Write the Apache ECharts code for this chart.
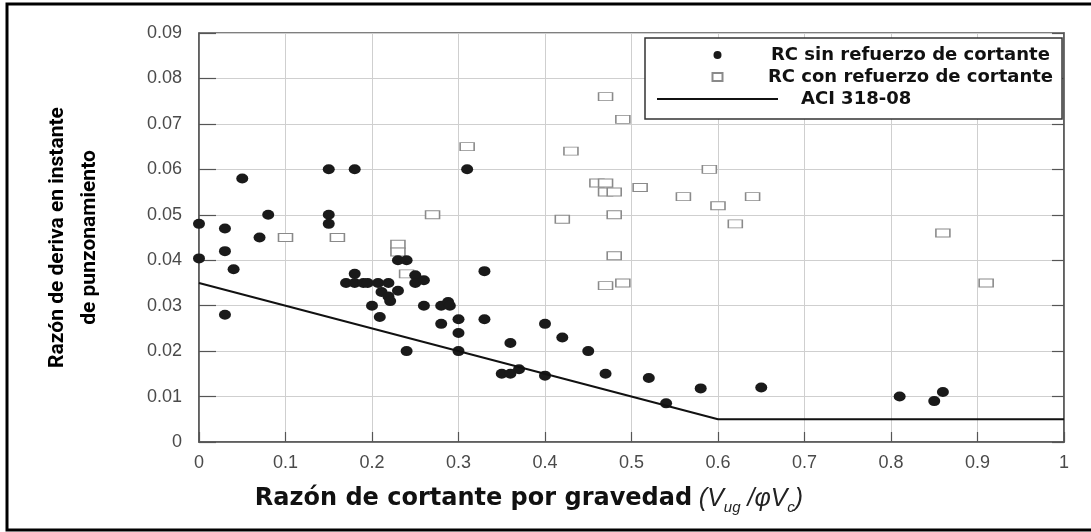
<!DOCTYPE html>
<html>
<head>
<meta charset="utf-8">
<title>Razón de deriva vs razón de cortante</title>
<script src="https://cdn.jsdelivr.net/npm/echarts@6/dist/echarts.min.js"></script>
<style>
  html, body { margin: 0; padding: 0; background: #fff; }
  #chart { width: 1091px; height: 532px; }
</style>
</head>
<body>
<div id="chart"></div>
<script>
// RC sin refuerzo de cortante (puntos negros)
const sinX = [0, 0, 0.03, 0.03, 0.03, 0.04, 0.05, 0.07, 0.08, 0.15, 0.15, 0.15, 0.18, 0.18,
  0.17, 0.18, 0.19, 0.195, 0.2, 0.207, 0.219, 0.211, 0.209, 0.219, 0.221, 0.23, 0.23, 0.24,
  0.25, 0.25, 0.26, 0.26, 0.24, 0.28, 0.288, 0.29, 0.28, 0.3, 0.3, 0.3, 0.31, 0.33, 0.33,
  0.35, 0.36, 0.37, 0.36, 0.4, 0.4, 0.42, 0.45, 0.47, 0.52, 0.54, 0.58, 0.65, 0.81, 0.85, 0.86];
const sinY = [0.048, 0.0404, 0.047, 0.042, 0.028, 0.038, 0.058, 0.045, 0.05, 0.06, 0.05, 0.048, 0.06, 0.037,
  0.035, 0.035, 0.035, 0.035, 0.03, 0.035, 0.035, 0.033, 0.0275, 0.032, 0.031, 0.0333, 0.04, 0.04,
  0.0367, 0.035, 0.0356, 0.03, 0.02, 0.03, 0.0308, 0.03, 0.026, 0.027, 0.024, 0.02, 0.06, 0.0376, 0.027,
  0.015, 0.015, 0.016, 0.0218, 0.026, 0.0146, 0.023, 0.02, 0.015, 0.0141, 0.0085, 0.0118, 0.012, 0.01, 0.009, 0.011];

// RC con refuerzo de cortante (cuadros abiertos)
const conX = [0.1, 0.16, 0.23, 0.23, 0.24, 0.27, 0.31, 0.42, 0.43, 0.46, 0.47, 0.47, 0.48, 0.47,
  0.49, 0.48, 0.48, 0.47, 0.49, 0.51, 0.56, 0.59, 0.6, 0.62, 0.64, 0.86, 0.91];
const conY = [0.045, 0.045, 0.0435, 0.0418, 0.037, 0.05, 0.065, 0.049, 0.064, 0.057, 0.057, 0.055, 0.055, 0.076,
  0.071, 0.05, 0.041, 0.0344, 0.035, 0.056, 0.054, 0.06, 0.052, 0.048, 0.054, 0.046, 0.035];

// ACI 318-08
const aciX = [0, 0.6, 1];
const aciY = [0.035, 0.005, 0.005];

const seriesNames = ['RC sin refuerzo de cortante', 'RC con refuerzo de cortante', 'ACI 318-08'];

const zip = (xs, ys) => xs.map((x, i) => [x, ys[i]]);

const chart = echarts.init(document.getElementById('chart'));

const labelFont = { fontFamily: 'Liberation Sans, Arial, sans-serif', fontSize: 18, color: '#4a4a4a' };
const gridLine = { show: true, lineStyle: { color: '#cfcfcf', width: 1 } };
const axisLine = { show: true, onZero: false, lineStyle: { color: '#555', width: 1.5 } };

const option = {
    backgroundColor: '#ffffff',
    animation: false,
    grid: { left: 199, right: 27, top: 33, bottom: 90, show: true, borderColor: '#555', borderWidth: 1.5 },
    graphic: [{
        type: 'rect',
        shape: { x: 7, y: 4, width: 1090, height: 526 },
        style: { fill: 'none', stroke: '#000', lineWidth: 3 },
        silent: true
    }],
    legend: {
        orient: 'vertical',
        left: 645,
        top: 38,
        padding: [6, 9, 9, 12],
        itemWidth: 121,
        itemHeight: 8,
        itemGap: 0,
        backgroundColor: '#fff',
        borderColor: '#333',
        borderWidth: 1.5,
        borderRadius: 0,
        textStyle: { fontFamily: 'DejaVu Sans, Verdana, sans-serif', fontWeight: 'bold', fontSize: 18, lineHeight: 22, color: '#111' },
        data: [
            { name: seriesNames[0], icon: 'circle', textStyle: { padding: [0, 0, 0, -12] } },
            { name: seriesNames[1], icon: 'path://M0,0H10V8H0Z', textStyle: { padding: [0, 0, 0, -15] } },
            { name: seriesNames[2], icon: 'path://M0,0H120V2H0Z', itemStyle: { color: '#111' }, textStyle: { padding: [0, 0, 0, 18] } }
        ]
    },
    xAxis: {
        type: 'value',
        min: 0,
        max: 1,
        interval: 0.1,
        axisLine: axisLine,
        axisTick: { show: true, inside: true, length: 10, lineStyle: { color: '#555', width: 1.2 } },
        splitLine: gridLine,
        axisLabel: Object.assign({ margin: 12, formatter: v => (v === 0 ? '0' : v === 1 ? '1' : v.toFixed(1)) }, labelFont),
        name: '{b|Razón de cortante por gravedad}  {i|(V}{s|ug}{i| /φV}{s|c}{i|)}',
        nameLocation: 'middle',
        nameGap: 41,
        nameTextStyle: {
            padding: [0, 205, 0, 0],
            rich: {
                b: { fontFamily: 'DejaVu Sans, Verdana, sans-serif', fontWeight: 'bold', fontSize: 24, color: '#111', lineHeight: 32, verticalAlign: 'middle' },
                i: { fontFamily: 'Liberation Sans, Arial, sans-serif', fontStyle: 'italic', fontSize: 25, color: '#222', lineHeight: 32, verticalAlign: 'middle' },
                s: { fontFamily: 'Liberation Sans, Arial, sans-serif', fontStyle: 'italic', fontSize: 15, color: '#222', lineHeight: 15, verticalAlign: 'bottom' }
            }
        }
    },
    yAxis: [{
        type: 'value',
        min: 0,
        max: 0.09,
        interval: 0.01,
        axisLine: axisLine,
        axisTick: { show: true, inside: true, length: 17, lineStyle: { color: '#555', width: 1.2 } },
        splitLine: gridLine,
        axisLabel: Object.assign({ margin: 17, formatter: v => (v === 0 ? '0' : v.toFixed(2)) }, labelFont),
        name: 'Razón de deriva en instante\nde punzonamiento',
        nameLocation: 'middle',
        nameGap: 93,
        nameTextStyle: {
            fontFamily: 'Roboto, Liberation Sans, sans-serif',
            fontWeight: 'bold',
            fontSize: 21,
            lineHeight: 32,
            color: '#000'
        }
    }, {
        type: 'value',
        position: 'right',
        min: 0,
        max: 0.09,
        interval: 0.01,
        axisLine: axisLine,
        axisTick: { show: true, inside: true, length: 12, lineStyle: { color: '#555', width: 1.2 } },
        axisLabel: { show: false },
        splitLine: { show: false }
    }],
    series: [{
        name: seriesNames[0],
        type: 'scatter',
        symbol: 'circle',
        symbolSize: [12, 10],
        itemStyle: { color: '#1a1a1a', opacity: 1 },
        data: zip(sinX, sinY),
        z: 3
    }, {
        name: seriesNames[1],
        type: 'scatter',
        symbol: 'rect',
        symbolSize: [14, 8],
        itemStyle: { color: '#fff', borderColor: '#8a8a8a', borderWidth: 1.2, opacity: 1 },
        data: zip(conX, conY),
        z: 2
    }, {
        name: seriesNames[2],
        type: 'line',
        symbol: 'none',
        showSymbol: false,
        lineStyle: { color: '#111', width: 2 },
        itemStyle: { color: '#111' },
        data: zip(aciX, aciY),
        z: 4
    }]
};

chart.setOption(option);
</script>
</body>
</html>
